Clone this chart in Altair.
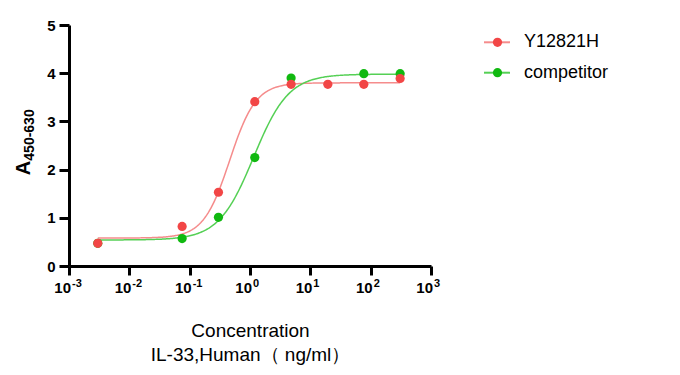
import numpy as np
import pandas as pd
import altair as alt

series_names = ["Y12821H", "competitor"]
point_colors = ["#F24646", "#10B910"]
line_colors = ["#F58C8C", "#55D055"]

red_conc = [0.003, 0.075, 0.30, 1.2, 4.8, 19.5, 77, 308]
red_abs = [0.47, 0.82, 1.53, 3.41, 3.77, 3.77, 3.77, 3.89]
green_conc = [0.003, 0.075, 0.30, 1.2, 4.8, 77, 308]
green_abs = [0.47, 0.57, 1.01, 2.25, 3.90, 3.99, 3.99]

# four-parameter logistic fit parameters (red, green)
fit_bottom = [0.58, 0.54]
fit_top = [3.80, 3.98]
fit_ec50 = [0.46, 1.15]
fit_hill = [2.0, 1.5]

x_ticks = [0.001, 0.01, 0.1, 1, 10, 100, 1000]
x_exponents = ["-3", "-2", "-1", "0", "1", "2", "3"]
y_ticks = [0, 1, 2, 3, 4, 5]

FONT = "Liberation Sans"

# points: green first so red is drawn on top
pts = pd.concat([
    pd.DataFrame({"conc": green_conc, "abs": green_abs, "series": series_names[1]}),
    pd.DataFrame({"conc": red_conc, "abs": red_abs, "series": series_names[0]}),
])

curve_rows = []
for i, (cx, name) in enumerate([(red_conc, series_names[0]), (green_conc, series_names[1])]):
    xs = np.logspace(np.log10(min(cx)), np.log10(max(cx)), 300)
    ys = fit_bottom[i] + (fit_top[i] - fit_bottom[i]) / (1 + (fit_ec50[i] / xs) ** fit_hill[i])
    curve_rows.append(pd.DataFrame({"conc": xs, "abs": ys, "fit": name}))
curves_df = pd.concat(curve_rows)

xscale = alt.Scale(type="log", domain=[0.001, 1000], nice=False)
yscale = alt.Scale(domain=[0, 5], nice=False)
fill_scale = alt.Scale(domain=series_names, range=point_colors)
stroke_scale = alt.Scale(domain=series_names, range=line_colors)

x_axis = alt.Axis(values=x_ticks, labels=False, grid=False, tickSize=9, tickWidth=3,
                  domainWidth=3, domainColor="black", tickColor="black",
                  title=["Concentration", "IL-33,Human\uff08 ng/ml\uff09"],
                  titleFont=FONT, titleFontSize=19, titleFontWeight="normal",
                  titleColor="black", titleLineHeight=24, titleBaseline="alphabetic",
                  titleY=70)
y_axis = alt.Axis(values=y_ticks, grid=False, tickSize=10, tickWidth=3,
                  domainWidth=3, domainColor="black", tickColor="black",
                  labelFont=FONT, labelFontSize=15, labelFontWeight="bold",
                  labelColor="black", labelPadding=4, title=None)

X = alt.X("conc:Q", scale=xscale, axis=x_axis)
Y = alt.Y("abs:Q", scale=yscale, axis=y_axis)

curves = alt.Chart(curves_df).mark_line(strokeWidth=1.5).encode(
    x=X, y=Y,
    stroke=alt.Stroke("fit:N", scale=stroke_scale, legend=None),
)

points = alt.Chart(pts).mark_circle(size=85, opacity=1).encode(
    x=X, y=Y,
    fill=alt.Fill("series:N", scale=fill_scale, legend=None),
)

ticks_df = pd.DataFrame({"conc": x_ticks, "exp": x_exponents})
base_labels = alt.Chart(ticks_df).mark_text(
    text="10", align="right", baseline="alphabetic", dx=2,
    font=FONT, fontSize=15, fontWeight="bold", color="black",
).encode(x=alt.X("conc:Q", scale=xscale), y=alt.value(268))
exp_labels = alt.Chart(ticks_df).mark_text(
    align="left", baseline="alphabetic", dx=3,
    font=FONT, fontSize=11, fontWeight="bold", color="black",
).encode(x=alt.X("conc:Q", scale=xscale), y=alt.value(262), text="exp:N")

one = pd.DataFrame({"k": [0]})
ytitle_a = alt.Chart(one).mark_text(
    text="A", angle=270, align="center", baseline="alphabetic",
    font=FONT, fontSize=20, fontWeight="bold", color="black",
).encode(x=alt.value(-39), y=alt.value(143))
ytitle_sub = alt.Chart(one).mark_text(
    text="450-630", angle=270, align="center", baseline="alphabetic",
    font=FONT, fontSize=14, fontWeight="bold", color="black",
).encode(x=alt.value(-35), y=alt.value(110))

main = alt.layer(curves, points, base_labels, exp_labels, ytitle_a, ytitle_sub)

# hand-built legend (line + dot + label), rows placed by a point scale
legend_df = pd.DataFrame({"series": series_names, "fit": series_names})
LY = alt.Y("series:N", axis=None,
           scale=alt.Scale(type="point", domain=series_names, range=[17.3, 47.7], padding=0))
leg_line = alt.Chart(legend_df).mark_rule(strokeWidth=2).encode(
    x=alt.value(415), x2=alt.value(441), y=LY,
    stroke=alt.Stroke("fit:N", scale=stroke_scale, legend=None),
)
leg_dot = alt.Chart(legend_df).mark_circle(size=85, opacity=1).encode(
    x=alt.value(428.5), y=LY,
    fill=alt.Fill("series:N", scale=fill_scale, legend=None),
)
leg_text = alt.Chart(legend_df).mark_text(
    align="left", baseline="middle", font=FONT, fontSize=18, color="black",
).encode(x=alt.value(455), y=LY, text="series:N")
legend = alt.layer(leg_line, leg_dot, leg_text)

chart = alt.layer(main, legend).resolve_scale(y="independent").properties(
    width=362, height=241,
    padding={"left": 69, "top": 25, "right": 249, "bottom": 109},
    autosize=alt.AutoSizeParams(type="none"),
    background="white",
).configure_view(stroke=None)

chart.save("out.html", embed_options={"renderer": "svg", "actions": False})
